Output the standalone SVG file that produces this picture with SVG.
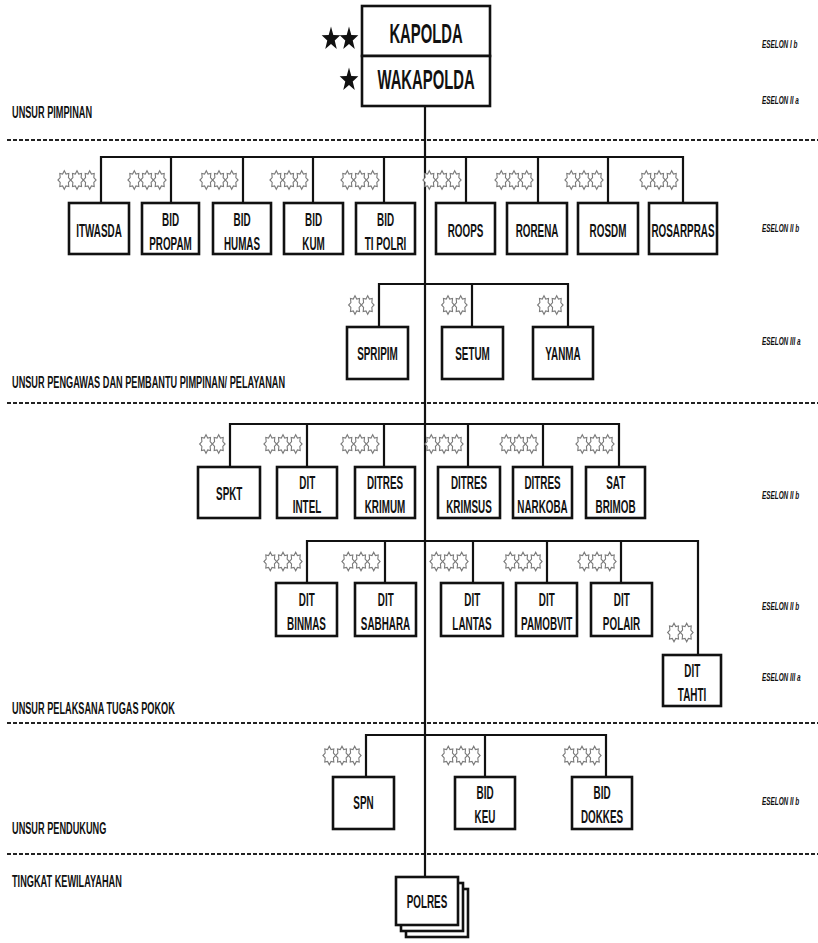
<svg xmlns="http://www.w3.org/2000/svg" xmlns:xlink="http://www.w3.org/1999/xlink" width="818" height="943" viewBox="0 0 818 943">
<style>
.box{fill:#fff;stroke:#111;stroke-width:2.6}
.ln{fill:none;stroke:#111;stroke-width:2.2}
.dash{fill:none;stroke:#222;stroke-width:2.2;stroke-dasharray:4 2}
.t{font-family:"Liberation Sans",Arial,sans-serif;font-weight:bold;font-size:19px;fill:#111;text-anchor:middle;transform:scaleX(0.52);transform-box:fill-box;transform-origin:50% 50%}
.big{font-size:27px;transform:scaleX(0.55)}
.lab{font-family:"Liberation Sans",Arial,sans-serif;font-weight:bold;font-size:17px;fill:#111;transform:scaleX(0.54);transform-box:fill-box;transform-origin:0 50%}
.es{font-family:"Liberation Sans",Arial,sans-serif;font-weight:bold;font-style:italic;font-size:11px;fill:#111;transform:scaleX(0.58);transform-box:fill-box;transform-origin:0 50%}
.fl{fill:#fff;stroke:#7a7a7a;stroke-width:1.1;vector-effect:non-scaling-stroke}
.st{fill:#111}
</style>
<defs>
<path id="flw" class="fl" transform="scale(0.64,0.92)" d="M0,-10 L2.66,-6.43 L7.07,-7.07 L6.43,-2.66 L10,0 L6.43,2.66 L7.07,7.07 L2.66,6.43 L0,10 L-2.66,6.43 L-7.07,7.07 L-6.43,2.66 L-10,0 L-6.43,-2.66 L-7.07,-7.07 L-2.66,-6.43 Z"/>
<path id="star" class="st" transform="scale(0.98,1.25)" d="M0,-10 L2.351,-3.236 L9.511,-3.090 L3.804,1.236 L5.878,8.090 L0,4 L-5.878,8.090 L-3.804,1.236 L-9.511,-3.090 L-2.351,-3.236 Z"/>
</defs>
<rect width="818" height="943" fill="#fff"/>

<g id="dividers">
<line class="dash" x1="7" y1="140" x2="818" y2="140"/>
<line class="dash" x1="7" y1="403" x2="818" y2="403"/>
<line class="dash" x1="7" y1="723" x2="818" y2="723"/>
<line class="dash" x1="7" y1="854" x2="818" y2="854"/>
</g>

<g id="labels">
<text class="lab" x="12" y="118">UNSUR PIMPINAN</text>
<text class="lab" x="12" y="388">UNSUR PENGAWAS DAN PEMBANTU PIMPINAN/ PELAYANAN</text>
<text class="lab" x="12" y="714">UNSUR PELAKSANA TUGAS POKOK</text>
<text class="lab" x="12" y="834">UNSUR PENDUKUNG</text>
<text class="lab" x="12" y="887">TINGKAT KEWILAYAHAN</text>
<text class="es" x="762" y="48">ESELON I b</text>
<text class="es" x="762" y="104">ESELON II a</text>
<text class="es" x="762" y="232">ESELON II b</text>
<text class="es" x="762" y="345">ESELON III a</text>
<text class="es" x="762" y="499">ESELON II b</text>
<text class="es" x="762" y="610">ESELON II b</text>
<text class="es" x="762" y="681">ESELON III a</text>
<text class="es" x="762" y="805">ESELON II b</text>
</g>

<g id="connectors">
<line class="ln" x1="425" y1="106" x2="425" y2="877"/>
<polyline class="ln" points="101,203 101,157 683,157 683,203"/>
<line class="ln" x1="171" y1="157" x2="171" y2="203"/>
<line class="ln" x1="243" y1="157" x2="243" y2="203"/>
<line class="ln" x1="313" y1="157" x2="313" y2="203"/>
<line class="ln" x1="384" y1="157" x2="384" y2="203"/>
<line class="ln" x1="466" y1="157" x2="466" y2="203"/>
<line class="ln" x1="538" y1="157" x2="538" y2="203"/>
<line class="ln" x1="608" y1="157" x2="608" y2="203"/>
<polyline class="ln" points="379,327 379,284 568,284 568,327"/>
<line class="ln" x1="472" y1="284" x2="472" y2="327"/>
<polyline class="ln" points="230,467 230,424 619,424 619,467"/>
<line class="ln" x1="307" y1="424" x2="307" y2="467"/>
<line class="ln" x1="384" y1="424" x2="384" y2="467"/>
<line class="ln" x1="468" y1="424" x2="468" y2="467"/>
<line class="ln" x1="543" y1="424" x2="543" y2="467"/>
<polyline class="ln" points="307,583 307,541 698,541 698,655"/>
<line class="ln" x1="385" y1="541" x2="385" y2="583"/>
<line class="ln" x1="473" y1="541" x2="473" y2="583"/>
<line class="ln" x1="547" y1="541" x2="547" y2="583"/>
<line class="ln" x1="621" y1="541" x2="621" y2="583"/>
<polyline class="ln" points="366,777 366,735 606,735 606,777"/>
<line class="ln" x1="485" y1="735" x2="485" y2="777"/>
</g>

<g id="kapolda">
<use href="#star" x="331" y="39"/>
<use href="#star" x="349" y="39"/>
<rect class="box" x="362" y="6" width="128" height="50"/>
<text class="t big" x="426" y="43">KAPOLDA</text>
</g>
<g id="wakapolda">
<use href="#star" x="349" y="80"/>
<rect class="box" x="362" y="56" width="128" height="50"/>
<text class="t big" x="426" y="89">WAKAPOLDA</text>
</g>

<!-- Row 1 -->
<g id="itwasda">
<use href="#flw" x="64.3" y="180"/><use href="#flw" x="77" y="180"/><use href="#flw" x="89.7" y="180"/>
<rect class="box" x="69" y="203" width="60" height="51"/>
<text class="t" x="99" y="237">ITWASDA</text>
</g>
<g id="bid-propam">
<use href="#flw" x="134.3" y="180"/><use href="#flw" x="147" y="180"/><use href="#flw" x="159.7" y="180"/>
<rect class="box" x="142" y="203" width="57" height="51"/>
<text class="t" x="170.5" y="226">BID</text><text class="t" x="170.5" y="250">PROPAM</text>
</g>
<g id="bid-humas">
<use href="#flw" x="206.3" y="180"/><use href="#flw" x="219" y="180"/><use href="#flw" x="231.7" y="180"/>
<rect class="box" x="213" y="203" width="58" height="51"/>
<text class="t" x="242" y="226">BID</text><text class="t" x="242" y="250">HUMAS</text>
</g>
<g id="bid-kum">
<use href="#flw" x="276.3" y="180"/><use href="#flw" x="289" y="180"/><use href="#flw" x="301.7" y="180"/>
<rect class="box" x="284" y="203" width="59" height="51"/>
<text class="t" x="313.5" y="226">BID</text><text class="t" x="313.5" y="250">KUM</text>
</g>
<g id="bid-tipolri">
<use href="#flw" x="347.3" y="180"/><use href="#flw" x="360" y="180"/><use href="#flw" x="372.7" y="180"/>
<rect class="box" x="356" y="203" width="59" height="51"/>
<text class="t" x="385.5" y="226">BID</text><text class="t" x="385.5" y="250">TI POLRI</text>
</g>
<g id="roops">
<use href="#flw" x="429.3" y="180"/><use href="#flw" x="442" y="180"/><use href="#flw" x="454.7" y="180"/>
<rect class="box" x="436" y="203" width="59" height="51"/>
<text class="t" x="465.5" y="237">ROOPS</text>
</g>
<g id="rorena">
<use href="#flw" x="501.3" y="180"/><use href="#flw" x="514" y="180"/><use href="#flw" x="526.7" y="180"/>
<rect class="box" x="507" y="203" width="60" height="51"/>
<text class="t" x="537" y="237">RORENA</text>
</g>
<g id="rosdm">
<use href="#flw" x="571.3" y="180"/><use href="#flw" x="584" y="180"/><use href="#flw" x="596.7" y="180"/>
<rect class="box" x="578" y="203" width="60" height="51"/>
<text class="t" x="608" y="237">ROSDM</text>
</g>
<g id="rosarpras">
<use href="#flw" x="646.3" y="180"/><use href="#flw" x="659" y="180"/><use href="#flw" x="671.7" y="180"/>
<rect class="box" x="649" y="203" width="68" height="51"/>
<text class="t" x="683" y="237">ROSARPRAS</text>
</g>

<!-- Row 2 -->
<g id="spripim">
<use href="#flw" x="355" y="305"/><use href="#flw" x="367.7" y="305"/>
<rect class="box" x="347" y="327" width="61" height="52"/>
<text class="t" x="377.5" y="360">SPRIPIM</text>
</g>
<g id="setum">
<use href="#flw" x="448" y="305"/><use href="#flw" x="460.7" y="305"/>
<rect class="box" x="442" y="327" width="61" height="52"/>
<text class="t" x="472.5" y="360">SETUM</text>
</g>
<g id="yanma">
<use href="#flw" x="544" y="305"/><use href="#flw" x="556.7" y="305"/>
<rect class="box" x="533" y="327" width="60" height="52"/>
<text class="t" x="563" y="360">YANMA</text>
</g>

<!-- Row 3 -->
<g id="spkt">
<use href="#flw" x="206" y="444"/><use href="#flw" x="218.7" y="444"/>
<rect class="box" x="198" y="467" width="62" height="51"/>
<text class="t" x="229" y="500">SPKT</text>
</g>
<g id="dit-intel">
<use href="#flw" x="270.3" y="444"/><use href="#flw" x="283" y="444"/><use href="#flw" x="295.7" y="444"/>
<rect class="box" x="277" y="467" width="60" height="51"/>
<text class="t" x="307" y="489">DIT</text><text class="t" x="307" y="513">INTEL</text>
</g>
<g id="ditres-krimum">
<use href="#flw" x="347.3" y="444"/><use href="#flw" x="360" y="444"/><use href="#flw" x="372.7" y="444"/>
<rect class="box" x="355" y="467" width="60" height="51"/>
<text class="t" x="385" y="489">DITRES</text><text class="t" x="385" y="513">KRIMUM</text>
</g>
<g id="ditres-krimsus">
<use href="#flw" x="431.3" y="444"/><use href="#flw" x="444" y="444"/><use href="#flw" x="456.7" y="444"/>
<rect class="box" x="438" y="467" width="62" height="51"/>
<text class="t" x="469" y="489">DITRES</text><text class="t" x="469" y="513">KRIMSUS</text>
</g>
<g id="ditres-narkoba">
<use href="#flw" x="506.3" y="444"/><use href="#flw" x="519" y="444"/><use href="#flw" x="531.7" y="444"/>
<rect class="box" x="513" y="467" width="59" height="51"/>
<text class="t" x="542.5" y="489">DITRES</text><text class="t" x="542.5" y="513">NARKOBA</text>
</g>
<g id="sat-brimob">
<use href="#flw" x="582.3" y="444"/><use href="#flw" x="595" y="444"/><use href="#flw" x="607.7" y="444"/>
<rect class="box" x="586" y="467" width="59" height="51"/>
<text class="t" x="615.5" y="489">SAT</text><text class="t" x="615.5" y="513">BRIMOB</text>
</g>

<!-- Row 4 -->
<g id="dit-binmas">
<use href="#flw" x="270.3" y="561.5"/><use href="#flw" x="283" y="561.5"/><use href="#flw" x="295.7" y="561.5"/>
<rect class="box" x="276" y="583" width="61" height="53"/>
<text class="t" x="306.5" y="606">DIT</text><text class="t" x="306.5" y="630">BINMAS</text>
</g>
<g id="dit-sabhara">
<use href="#flw" x="348.3" y="561.5"/><use href="#flw" x="361" y="561.5"/><use href="#flw" x="373.7" y="561.5"/>
<rect class="box" x="355" y="583" width="61" height="53"/>
<text class="t" x="385.5" y="606">DIT</text><text class="t" x="385.5" y="630">SABHARA</text>
</g>
<g id="dit-lantas">
<use href="#flw" x="436.3" y="561.5"/><use href="#flw" x="449" y="561.5"/><use href="#flw" x="461.7" y="561.5"/>
<rect class="box" x="441" y="583" width="62" height="53"/>
<text class="t" x="472" y="606">DIT</text><text class="t" x="472" y="630">LANTAS</text>
</g>
<g id="dit-pamobvit">
<use href="#flw" x="510.3" y="561.5"/><use href="#flw" x="523" y="561.5"/><use href="#flw" x="535.7" y="561.5"/>
<rect class="box" x="516" y="583" width="61" height="53"/>
<text class="t" x="546.5" y="606">DIT</text><text class="t" x="546.5" y="630">PAMOBVIT</text>
</g>
<g id="dit-polair">
<use href="#flw" x="584.3" y="561.5"/><use href="#flw" x="597" y="561.5"/><use href="#flw" x="609.7" y="561.5"/>
<rect class="box" x="591" y="583" width="61" height="53"/>
<text class="t" x="621.5" y="606">DIT</text><text class="t" x="621.5" y="630">POLAIR</text>
</g>
<g id="dit-tahti">
<use href="#flw" x="674" y="632.5"/><use href="#flw" x="686.7" y="632.5"/>
<rect class="box" x="663" y="655" width="58" height="51"/>
<text class="t" x="692" y="677">DIT</text><text class="t" x="692" y="701">TAHTI</text>
</g>

<!-- Row 5 -->
<g id="spn">
<use href="#flw" x="329.3" y="755.5"/><use href="#flw" x="342" y="755.5"/><use href="#flw" x="354.7" y="755.5"/>
<rect class="box" x="333" y="777" width="61" height="52"/>
<text class="t" x="363.5" y="809">SPN</text>
</g>
<g id="bid-keu">
<use href="#flw" x="448.3" y="755.5"/><use href="#flw" x="461" y="755.5"/><use href="#flw" x="473.7" y="755.5"/>
<rect class="box" x="455" y="777" width="60" height="52"/>
<text class="t" x="485" y="799">BID</text><text class="t" x="485" y="823">KEU</text>
</g>
<g id="bid-dokkes">
<use href="#flw" x="569.3" y="755.5"/><use href="#flw" x="582" y="755.5"/><use href="#flw" x="594.7" y="755.5"/>
<rect class="box" x="572" y="777" width="60" height="52"/>
<text class="t" x="602" y="799">BID</text><text class="t" x="602" y="823">DOKKES</text>
</g>

<g id="polres">
<rect class="box" x="406" y="889" width="62" height="48"/>
<rect class="box" x="401" y="883" width="62" height="48"/>
<rect class="box" x="396" y="877" width="62" height="48"/>
<text class="t" x="427" y="908">POLRES</text>
</g>
</svg>
